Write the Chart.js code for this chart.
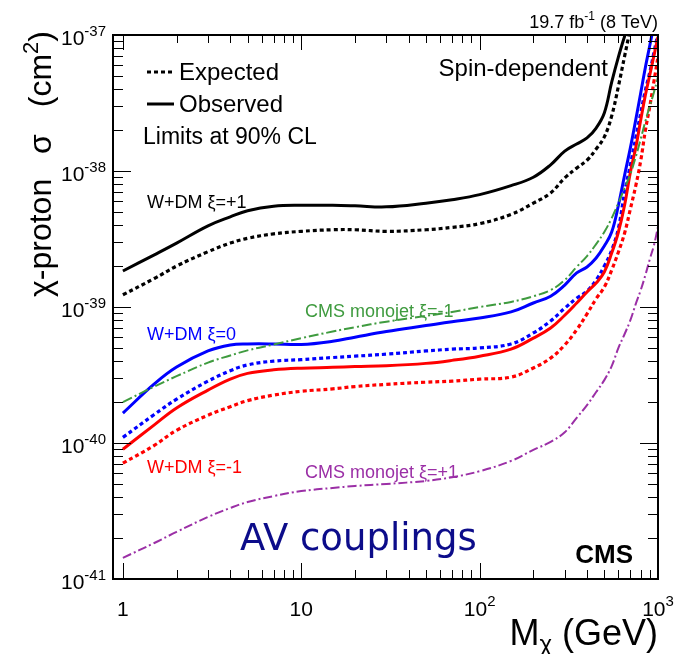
<!DOCTYPE html>
<html>
<head>
<meta charset="utf-8">
<script src="https://cdn.jsdelivr.net/npm/chart.js@4.4.1/dist/chart.umd.min.js"></script>
<style>
html,body{margin:0;padding:0;background:#fff;}
#wrap{width:675px;height:654px;position:relative;}
</style>
</head>
<body>
<div id="wrap"><canvas id="c" width="675" height="654"></canvas></div>
<script>
// ---------------- data ----------------
const masses = [1,1.5,2,3,4,5,7,10,15,20,30,50,70,100,150,200,250,300,350,400,450,500,550,600,650,700,750,800,850,900,950,1000];

const wdmP1Observed = [1.84e-39,2.42e-39,2.95e-39,3.95e-39,4.6e-39,5.1e-39,5.5e-39,5.6e-39,5.6e-39,5.55e-39,5.45e-39,5.8e-39,6.15e-39,6.7e-39,7.8e-39,9.0e-39,1.11e-38,1.4e-38,1.58e-38,1.75e-38,2.07e-38,2.67e-38,4.5e-38,6.9e-38,9.8e-38,1.33e-37,null,null,null,null,null,null];
const wdmP1Expected = [1.23e-39,1.62e-39,2.0e-39,2.55e-39,2.95e-39,3.2e-39,3.45e-39,3.6e-39,3.7e-39,3.7e-39,3.6e-39,3.7e-39,3.85e-39,4.1e-39,4.8e-39,5.8e-39,6.9e-39,8.9e-39,1.05e-38,1.2e-38,1.45e-38,1.78e-38,2.54e-38,4.2e-38,7.0e-38,1.12e-37,null,null,null,null,null,null];

const wdm0Observed = [1.66e-40,2.72e-40,3.62e-40,4.75e-40,5.26e-40,5.35e-40,5.35e-40,5.3e-40,5.6e-40,6.0e-40,6.6e-40,7.3e-40,7.8e-40,8.3e-40,9.2e-40,1.07e-39,1.2e-39,1.45e-39,1.78e-39,1.97e-39,2.29e-39,2.81e-39,3.56e-39,5.6e-39,9.35e-39,1.48e-38,2.37e-38,3.75e-38,5.8e-38,8.4e-38,1.2e-37,null];
const wdm0Expected = [1.1e-40,1.62e-40,2.1e-40,2.85e-40,3.4e-40,3.75e-40,4.0e-40,4.1e-40,4.25e-40,4.35e-40,4.5e-40,4.75e-40,4.9e-40,5.0e-40,5.35e-40,6.44e-40,7.9e-40,9.8e-40,1.16e-39,1.31e-39,1.58e-39,2.0e-39,2.62e-39,3.8e-39,7.0e-39,1.11e-38,1.75e-38,2.67e-38,3.94e-38,5.34e-38,7.5e-38,1.03e-37];

const wdmM1Observed = [9.0e-41,1.36e-40,1.81e-40,2.45e-40,2.95e-40,3.25e-40,3.45e-40,3.55e-40,3.6e-40,3.65e-40,3.7e-40,3.85e-40,4.05e-40,4.35e-40,4.9e-40,5.9e-40,7.0e-40,8.7e-40,1.07e-39,1.29e-39,1.5e-39,1.81e-39,2.49e-39,3.56e-39,5.62e-39,9.8e-39,1.48e-38,2.37e-38,3.62e-38,5.1e-38,7.1e-38,9.7e-38];
const wdmM1Expected = [7.1e-41,9.6e-41,1.24e-40,1.6e-40,1.85e-40,2.05e-40,2.25e-40,2.4e-40,2.5e-40,2.6e-40,2.7e-40,2.8e-40,2.85e-40,2.95e-40,3.05e-40,3.56e-40,4.21e-40,5.26e-40,6.8e-40,8.9e-40,1.15e-39,1.4e-39,1.87e-39,2.54e-39,3.5e-39,5.26e-39,7.76e-39,1.19e-38,2.0e-38,3.0e-38,4.6e-38,6.9e-38];

const monojetM1 = [2.0e-40,2.6e-40,3.1e-40,3.9e-40,4.4e-40,4.8e-40,5.3e-40,5.9e-40,6.6e-40,7.1e-40,7.8e-40,8.6e-40,9.2e-40,1.0e-39,1.09e-39,1.2e-39,1.33e-39,1.58e-39,1.97e-39,2.37e-39,2.9e-39,3.56e-39,4.5e-39,5.82e-39,7.5e-39,9.5e-39,1.27e-38,1.72e-38,2.33e-38,3.0e-38,3.81e-38,4.91e-38];
const monojetP1 = [1.43e-41,1.84e-41,2.22e-41,2.86e-41,3.33e-41,3.68e-41,4.07e-41,4.43e-41,4.67e-41,4.83e-41,5.0e-41,5.26e-41,5.6e-41,6.2e-41,7.38e-41,8.9e-41,1.02e-40,1.2e-40,1.53e-40,1.9e-40,2.37e-40,2.9e-40,3.68e-40,5.0e-40,6.33e-40,8.0e-40,1.05e-39,1.33e-39,1.72e-39,2.25e-39,2.86e-39,3.9e-39];

const xMajorTicks = [1, 10, 100, 1000];
const xTickBase = ['1', '10', '10', '10'];
const xTickSup = ['', '', '2', '3'];
const yMajorTicks = [1e-41, 1e-40, 1e-39, 1e-38, 1e-37];
const yTickSup = ['-41', '-40', '-39', '-38', '-37'];

// ---------------- styles ----------------
const BLACK = '#000000', BLUE = '#0000ff', RED = '#ff0000', GREEN = '#3f9b3f', PURPLE = '#9b2fa6';
const FF = '"Liberation Sans", Arial, Helvetica, sans-serif';

function pts(vals) { return masses.map((m, i) => ({x: m, y: vals[i]})); }
function ds(label, vals, color, dash, width) {
  return {
    label, data: pts(vals), borderColor: color, backgroundColor: color,
    borderWidth: width, borderDash: dash, pointRadius: 0, fill: false,
    tension: 0.4, spanGaps: false
  };
}

const datasets = [
  ds('CMS monojet ξ=+1', monojetP1, PURPLE, [9,3,2,3], 2),
  ds('CMS monojet ξ=-1', monojetM1, GREEN, [10,3,2,3], 2),
  ds('W+DM ξ=-1 expected', wdmM1Expected, RED, [4,3], 3.2),
  ds('W+DM ξ=-1 observed', wdmM1Observed, RED, [], 3),
  ds('W+DM ξ=0 expected', wdm0Expected, BLUE, [4,3], 3.2),
  ds('W+DM ξ=0 observed', wdm0Observed, BLUE, [], 3),
  ds('W+DM ξ=+1 expected', wdmP1Expected, BLACK, [4,3], 3.2),
  ds('W+DM ξ=+1 observed', wdmP1Observed, BLACK, [], 3)
];

function font(size, bold, fam) { return (bold ? 'bold ' : '') + size + 'px ' + (fam || FF); }

function drawRich(ctx, parts, x, y, align, color) {
  let total = 0;
  for (const p of parts) { ctx.font = font(p.size, p.bold, p.fam); p.w = ctx.measureText(p.text).width; total += p.w; }
  let cx = align === 'right' ? x - total : (align === 'center' ? x - total / 2 : x);
  ctx.textAlign = 'left';
  ctx.textBaseline = 'alphabetic';
  ctx.fillStyle = color || '#000';
  for (const p of parts) { ctx.font = font(p.size, p.bold, p.fam); ctx.fillText(p.text, cx, y + (p.dy || 0)); cx += p.w; }
}

const decorPlugin = {
  id: 'decor',
  afterDatasetsDraw(chart) {
    const ctx = chart.ctx;
    const ca = chart.chartArea;
    const xs = chart.scales.x, ys = chart.scales.y;
    ctx.save();
    // ----- inner tick marks on all four sides -----
    ctx.strokeStyle = '#000';
    ctx.lineWidth = 1;
    ctx.beginPath();
    for (let d = -1; d <= 3; d++) {
      for (let m = 1; m <= 9; m++) {
        const v = m * Math.pow(10, d);
        if (v < 0.999 || v > xs.max * 1.0001) continue;
        const px = Math.round(xs.getPixelForValue(v)) + 0.5;
        const lenB = m === 1 ? 16 : 9;
        const lenT = m === 1 ? 15 : 8;
        ctx.moveTo(px, ca.bottom); ctx.lineTo(px, ca.bottom - lenB);
        ctx.moveTo(px, ca.top); ctx.lineTo(px, ca.top + lenT);
      }
    }
    for (let d = -41; d <= -37; d++) {
      for (let m = 1; m <= 9; m++) {
        const v = m * Math.pow(10, d);
        if (v > ys.max * 1.0001) continue;
        const py = Math.round(ys.getPixelForValue(v)) + 0.5;
        const len = m === 1 ? 18 : 10;
        ctx.moveTo(ca.left, py); ctx.lineTo(ca.left + len, py);
        ctx.moveTo(ca.right, py); ctx.lineTo(ca.right - len, py);
      }
    }
    ctx.stroke();
    // ----- frame -----
    ctx.lineWidth = 2;
    ctx.strokeRect(ca.left, ca.top, ca.right - ca.left, ca.bottom - ca.top);

    // ----- tick labels -----
    xMajorTicks.forEach((v, i) => {
      const px = xs.getPixelForValue(v);
      const parts = [{text: xTickBase[i], size: 21}];
      if (xTickSup[i]) parts.push({text: xTickSup[i], size: 15, dy: -10});
      drawRich(ctx, parts, px, ca.bottom + 37, 'center');
    });
    yMajorTicks.forEach((v, i) => {
      const py = ys.getPixelForValue(v);
      drawRich(ctx, [{text: '10', size: 21}, {text: yTickSup[i], size: 15, dy: -9}], ca.left - 7, py + 10, 'right');
    });

    // ----- axis titles -----
    drawRich(ctx, [
      {text: 'M', size: 36},
      {text: 'χ', size: 24, dy: 7},
      {text: ' (GeV)', size: 36}
    ], ca.right, 645, 'right');
    ctx.save();
    ctx.translate(51, 0);
    ctx.rotate(-Math.PI / 2);
    drawRich(ctx, [{text: 'χ-proton', size: 32}], -297, 0, 'left');
    drawRich(ctx, [{text: 'σ', size: 32}], -154, 0, 'left');
    drawRich(ctx, [{text: '(cm', size: 32}, {text: '2', size: 22, dy: -13}, {text: ')', size: 32}], -31, 0, 'right');
    ctx.restore();

    // ----- header -----
    drawRich(ctx, [
      {text: '19.7 fb', size: 18},
      {text: '-1', size: 12, dy: -8},
      {text: ' (8 TeV)', size: 18}
    ], ca.right, 28, 'right');

    // ----- text inside frame -----
    drawRich(ctx, [{text: 'Spin-dependent', size: 24}], 608, 76, 'right');

    ctx.strokeStyle = '#000';
    ctx.lineWidth = 3;
    ctx.setLineDash([4, 3]);
    ctx.beginPath(); ctx.moveTo(147, 72); ctx.lineTo(174, 72); ctx.stroke();
    ctx.setLineDash([]);
    ctx.beginPath(); ctx.moveTo(147, 104); ctx.lineTo(174, 104); ctx.stroke();
    drawRich(ctx, [{text: 'Expected', size: 24}], 179, 80, 'left');
    drawRich(ctx, [{text: 'Observed', size: 24}], 179, 112, 'left');
    drawRich(ctx, [{text: 'Limits at 90% CL', size: 23}], 143, 144, 'left');

    drawRich(ctx, [{text: 'W+DM ξ=+1', size: 18}], 147, 208, 'left', BLACK);
    drawRich(ctx, [{text: 'CMS monojet ξ=-1', size: 18}], 305, 317, 'left', GREEN);
    drawRich(ctx, [{text: 'W+DM ξ=0', size: 18}], 147, 340, 'left', BLUE);
    drawRich(ctx, [{text: 'W+DM ξ=-1', size: 18}], 147, 473, 'left', RED);
    drawRich(ctx, [{text: 'CMS monojet ξ=+1', size: 18}], 305, 478, 'left', PURPLE);

    drawRich(ctx, [{text: 'AV couplings', size: 37, fam: '"DejaVu Sans", sans-serif'}], 240, 550, 'left', '#0c0c8a');
    drawRich(ctx, [{text: 'CMS', size: 26, bold: true}], 633, 563, 'right', '#000');
    ctx.restore();
  }
};

new Chart(document.getElementById('c'), {
  type: 'line',
  data: { datasets },
  options: {
    responsive: false,
    animation: false,
    devicePixelRatio: 1,
    layout: { padding: { top: 35, right: 17, left: 0, bottom: 0 } },
    plugins: { legend: { display: false }, tooltip: { enabled: false }, title: { display: false } },
    scales: {
      x: {
        type: 'logarithmic', min: 0.88, max: 1000, bounds: 'data',
        ticks: { display: false }, grid: { display: false }, border: { display: false },
        afterFit: (s) => { s.height = 75; }
      },
      y: {
        type: 'logarithmic', min: 1e-41, max: 1e-37, bounds: 'data',
        ticks: { display: false }, grid: { display: false }, border: { display: false },
        afterFit: (s) => { s.width = 113; }
      }
    }
  },
  plugins: [decorPlugin]
});
</script>
</body>
</html>
